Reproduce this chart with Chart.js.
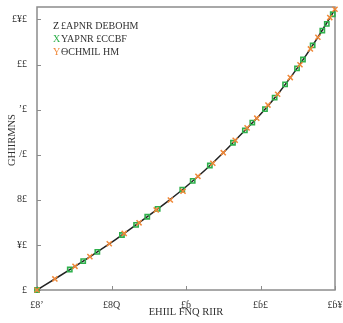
<!DOCTYPE html>
<html><head><meta charset="utf-8">
<script src="https://cdn.jsdelivr.net/npm/chart.js@4.4.1/dist/chart.umd.min.js"></script>
<style>html,body{margin:0;padding:0;background:#fff;}canvas{display:block;}</style>
</head><body>
<canvas id="c" width="343" height="323"></canvas>
<script>
// ---- data ----
const lineX = [0,0.25,0.5,0.75,1,1.25,1.5,1.75,2,2.25,2.5,2.75,3,3.25,3.5,3.75,4];
const lineY = [0,5.1,10.3,15.6,21.1,27.0,33.0,39.2,45.8,53.0,60.9,69.4,77.9,87.6,98.7,111.0,124.5];
const greenX = [0,0.44,0.62,0.81,1.14,1.33,1.48,1.62,1.95,2.09,2.32,2.63,2.79,2.89,3.06,3.19,3.33,3.49,3.57,3.70,3.83,3.89,3.97];
const greenY = [0,9.1,12.8,16.9,24.4,28.9,32.5,36.0,44.5,48.4,55.2,65.3,70.8,74.2,80.2,85.3,91.2,98.3,102.2,108.5,115.0,118.0,122.3];
const orangeX = [0,0.24,0.51,0.71,0.97,1.17,1.37,1.60,1.79,1.96,2.16,2.36,2.50,2.66,2.82,2.95,3.10,3.23,3.40,3.53,3.67,3.77,3.93,4.0];
const orangeY = [0,4.9,10.5,14.8,20.5,25.1,29.8,35.5,39.9,43.8,50.4,56.2,60.9,66.4,71.9,76.2,82.0,86.8,94.2,99.9,106.9,112.1,120.8,124.5];
const xTickValues = [0,1,2,3,4];
const xTickLabels = ["£8ʼ","£8Q","£ɓ","£ɓ£","£ɓ¥"];
const yTickValues = [0,20,40,60,80,100,120];
const yTickLabels = ["£","¥£","8£","/£","ʼ£","££","£¥£"];
const xTitle = "EHIIL FNQ RIIR";
const yTitle = "GHIIRMNS";
const legendMarks = ["Z","X","Y"];
const legendTexts = ["£APNR DEBOHM","YAPNR £CCBF","ϴCHMIL HM"];

const C_LINE = "#222222", C_GREEN = "#2fb04c", C_ORANGE = "#f08838", C_TEXT = "#333333", C_FRAME = "#8c8c8c";
const FONT = "'Liberation Serif', serif";

const toPts = (xs, ys) => xs.map((x, i) => ({x: x, y: ys[i]}));

const decor = {
  id: 'decor',
  beforeDatasetsDraw(chart) {
    const {ctx, chartArea: a, scales: {x, y}} = chart;
    ctx.save();
    ctx.strokeStyle = C_FRAME; ctx.lineWidth = 1.5;
    ctx.strokeRect(a.left, a.top, a.right - a.left, a.bottom - a.top);
    ctx.lineWidth = 1;
    ctx.beginPath();
    xTickValues.forEach(v => { const p = Math.round(x.getPixelForValue(v)) + 0.5; ctx.moveTo(p, a.bottom); ctx.lineTo(p, a.bottom - 4); });
    yTickValues.forEach(v => { const p = Math.round(y.getPixelForValue(v)) + 0.5; ctx.moveTo(a.left, p); ctx.lineTo(a.left + 4, p); });
    ctx.stroke();
    ctx.restore();
  },
  afterDraw(chart) {
    const {ctx, chartArea: a} = chart;
    ctx.save();
    ctx.fillStyle = C_TEXT;
    ctx.font = "10.5px " + FONT;
    ctx.textAlign = "center"; ctx.textBaseline = "middle";
    ctx.fillText(xTitle, (a.left + a.right) / 2, 312);
    ctx.translate(12, 140); ctx.rotate(-Math.PI / 2);
    ctx.fillText(yTitle, 0, 0);
    ctx.restore();
    // legend
    ctx.save();
    ctx.font = "10px " + FONT;
    ctx.textBaseline = "middle"; ctx.textAlign = "left";
    const cols = [C_LINE, C_GREEN, C_ORANGE];
    legendTexts.forEach((t, i) => {
      const yy = 26 + i * 13;
      ctx.fillStyle = cols[i];
      ctx.fillText(legendMarks[i], 53, yy);
      ctx.fillStyle = C_TEXT;
      ctx.fillText(t, 61, yy);
    });
    ctx.restore();
  }
};

new Chart(document.getElementById('c'), {
  type: 'scatter',
  data: {
    datasets: [
      {label: 'Y', data: toPts(orangeX, orangeY), pointStyle: 'crossRot', pointRadius: 3.6,
       borderColor: C_ORANGE, backgroundColor: C_ORANGE, pointBorderWidth: 1.5, showLine: false, clip: false},
      {label: 'X', data: toPts(greenX, greenY), pointStyle: 'rect', pointRadius: 3,
       borderColor: C_GREEN, backgroundColor: 'rgba(0,0,0,0)', pointBorderWidth: 1.6, showLine: false, clip: false},
      {label: 'Z', data: toPts(lineX, lineY), showLine: true, pointRadius: 0, borderColor: C_LINE,
       borderWidth: 1.5, cubicInterpolationMode: 'monotone', clip: false}
    ]
  },
  options: {
    responsive: false, animation: false, devicePixelRatio: 1,
    layout: {autoPadding: false, padding: {top: 7, right: 8, left: 0, bottom: 0}},
    plugins: {legend: {display: false}, tooltip: {enabled: false}},
    scales: {
      x: {type: 'linear', min: 0, max: 4,
          grid: {display: false, drawTicks: false}, border: {display: false},
          afterBuildTicks: s => { s.ticks = xTickValues.map(v => ({value: v})); },
          afterFit: s => { s.height = 33; s.paddingLeft = 0; s.paddingRight = 0; },
          ticks: {padding: 9, color: C_TEXT, font: {family: FONT, size: 10},
                  maxRotation: 0, autoSkip: false,
                  callback: (v) => xTickLabels[xTickValues.indexOf(v)]}},
      y: {type: 'linear', min: 0, max: 125.5,
          grid: {display: false, drawTicks: false}, border: {display: false},
          afterBuildTicks: s => { s.ticks = yTickValues.map(v => ({value: v})); },
          afterFit: s => { s.width = 37; s.paddingTop = 0; s.paddingBottom = 0; },
          ticks: {padding: 10, color: C_TEXT, font: {family: FONT, size: 10}, autoSkip: false,
                  callback: (v) => yTickLabels[yTickValues.indexOf(v)]}}
    }
  },
  plugins: [decor]
});
</script>
</body></html>
